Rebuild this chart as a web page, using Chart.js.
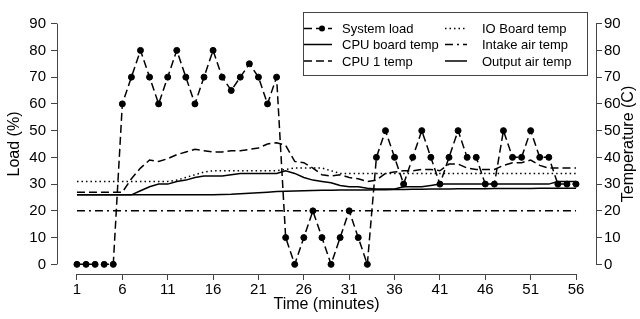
<!DOCTYPE html>
<html>
<head>
<meta charset="utf-8">
<script src="https://cdn.jsdelivr.net/npm/chart.js@4.4.1/dist/chart.umd.min.js"></script>
<style>
  html, body { margin: 0; padding: 0; background: #fff; }
  canvas { display: block; }
</style>
</head>
<body>
<canvas id="chart" width="640" height="319"></canvas>
<script>
// time axis (minutes)
const minutes = Array.from({ length: 56 }, (_, i) => i + 1);
const xTickVals = [1, 6, 11, 16, 21, 26, 31, 36, 41, 46, 51, 56];
const yTickVals = [0, 10, 20, 30, 40, 50, 60, 70, 80, 90];

// values
const systemLoad = [
  0, 0, 0, 0, 0, 60, 70, 80, 70, 60,
  70, 80, 70, 60, 70, 80, 70, 65, 70, 75,
  70, 60, 70, 10, 0, 10, 20, 10, 0, 10,
  20, 10, 0, 40, 50, 40, 30, 40, 50, 40,
  30, 40, 50, 40, 40, 30, 30, 50, 40, 40,
  50, 40, 40, 30, 30, 30
];
const cpuBoardTemp = [
  26, 26, 26, 26, 26, 26, 26, 27.5, 29, 30,
  30, 31, 31.5, 32.5, 33, 33, 33, 33.5, 34, 34,
  34, 34, 34, 35, 34, 32.5, 31.5, 31, 30.5, 29.5,
  29, 29, 28.5, 28.2, 28.2, 28.2, 29, 29, 29, 29.5,
  30, 30, 30, 30, 30, 30, 30, 30, 30, 30,
  30, 30, 30, 31, 31, 31
];
const cpu1Temp = [
  27, 27, 27, 27, 27, 27, 32, 36, 39, 38.5,
  39.5, 41, 42, 43, 42.5, 42, 42, 42.5, 42.5, 43,
  43.5, 45, 45.5, 44.5, 38.5, 38, 36, 33.5, 33, 33.5,
  32.5, 32, 31, 31.5, 34, 34.5, 35, 35, 35.5, 35.5,
  35, 37.5, 37.5, 36, 35.5, 35.5, 35.5, 37, 38, 38,
  39, 37, 36, 36, 36, 36
];
const ioBoardTemp = [
  31, 31, 31, 31, 31, 31, 31, 31, 31, 31,
  31, 31.5, 32.5, 33.5, 34.5, 35, 35, 35, 35, 35,
  35, 35, 35, 35.5, 36, 36, 36, 36, 35, 34,
  34, 34, 34, 34, 34, 34, 34, 34, 34, 34,
  34, 34, 34, 34, 34, 34, 34, 34, 34, 34,
  34, 34, 34, 34, 34, 34
];
const intakeAirTemp = [
  20, 20, 20, 20, 20, 20, 20, 20, 20, 20,
  20, 20, 20, 20, 20, 20, 20, 20, 20, 20,
  20, 20, 20, 20, 20, 20, 20, 20, 20, 20,
  20, 20, 20, 20, 20, 20, 20, 20, 20, 20,
  20, 20, 20, 20, 20, 20, 20, 20, 20, 20,
  20, 20, 20, 20, 20, 20
];
const outputAirTemp = [
  26, 26, 26, 26, 26, 26, 26, 26, 26, 26,
  26, 26, 26, 26, 26, 26, 26.1, 26.2, 26.4, 26.6,
  26.8, 27, 27.2, 27.3, 27.4, 27.5, 27.6, 27.7, 27.7, 27.8,
  27.8, 27.8, 27.8, 27.9, 27.9, 28, 28, 28.1, 28.1, 28.2,
  28.2, 28.2, 28.3, 28.3, 28.3, 28.3, 28.4, 28.4, 28.4, 28.4,
  28.4, 28.5, 28.5, 28.5, 28.5, 28.5
];

const FONT = "'Liberation Sans', Arial, sans-serif";
const AXIS_COLOR = '#444';

Chart.defaults.font.family = FONT;
Chart.defaults.color = '#000';

function toPoints(vals) {
  return vals.map((v, i) => ({ x: minutes[i], y: v }));
}

function lineSet(label, vals, dash, axis) {
  return {
    label: label,
    data: toPoints(vals),
    borderColor: '#000',
    backgroundColor: '#000',
    borderWidth: 1.5,
    borderDash: dash,
    pointRadius: 0,
    tension: 0,
    yAxisID: axis
  };
}

const loadSet = lineSet('System load', systemLoad, [8, 4], 'y');
loadSet.pointRadius = 3;
loadSet.pointBorderWidth = 1;
loadSet.pointHoverRadius = 3;

const datasets = [
  loadSet,
  lineSet('CPU board temp', cpuBoardTemp, [], 'y1'),
  lineSet('CPU 1 temp', cpu1Temp, [8, 4], 'y1'),
  lineSet('IO Board temp', ioBoardTemp, [1.5, 3], 'y1'),
  lineSet('Intake air temp', intakeAirTemp, [8, 4, 2, 4], 'y1'),
  lineSet('Output air temp', outputAirTemp, [], 'y1')
];

// R-style detached axes, titles and a boxed two-column legend
const decorations = {
  id: 'decorations',
  afterDraw(chart) {
    const ctx = chart.ctx;
    const area = chart.chartArea;
    const sx = chart.scales.x, sy = chart.scales.y, sy1 = chart.scales.y1;
    const px = (v) => Math.round(v) + 0.5;

    ctx.save();
    ctx.strokeStyle = AXIS_COLOR;
    ctx.lineWidth = 1;
    ctx.setLineDash([]);
    ctx.beginPath();
    ctx.moveTo(px(area.left), sy.getPixelForValue(yTickVals[0]));
    ctx.lineTo(px(area.left), sy.getPixelForValue(yTickVals[yTickVals.length - 1]));
    ctx.moveTo(px(area.right), sy1.getPixelForValue(yTickVals[0]));
    ctx.lineTo(px(area.right), sy1.getPixelForValue(yTickVals[yTickVals.length - 1]));
    ctx.moveTo(sx.getPixelForValue(xTickVals[0]), px(area.bottom));
    ctx.lineTo(sx.getPixelForValue(xTickVals[xTickVals.length - 1]), px(area.bottom));
    ctx.stroke();

    // axis titles
    ctx.fillStyle = '#000';
    ctx.font = '16px ' + FONT;
    ctx.textAlign = 'center';
    ctx.textBaseline = 'middle';
    const midY = (area.top + area.bottom) / 2;
    ctx.fillText('Time (minutes)', (area.left + area.right) / 2, 305);
    ctx.save();
    ctx.translate(15, midY);
    ctx.rotate(-Math.PI / 2);
    ctx.fillText('Load (%)', 0, 0);
    ctx.restore();
    ctx.save();
    ctx.translate(629, midY);
    ctx.rotate(-Math.PI / 2);
    ctx.fillText('Temperature (C)', 0, 0);
    ctx.restore();

    // legend
    const box = { left: 303.5, top: 12.5, right: 587.5, bottom: 75.5 };
    ctx.strokeStyle = AXIS_COLOR;
    ctx.strokeRect(box.left, box.top, box.right - box.left, box.bottom - box.top);
    const rows = [28.5, 44.5, 61];
    const cols = [
      { x0: 304, x1: 332, tx: 342 },
      { x0: 445, x1: 467, tx: 482 }
    ];
    ctx.font = '13px ' + FONT;
    ctx.textAlign = 'left';
    chart.data.datasets.forEach((ds, i) => {
      const col = cols[Math.floor(i / 3)];
      const y = rows[i % 3];
      ctx.strokeStyle = '#000';
      ctx.lineWidth = ds.borderWidth;
      ctx.setLineDash(ds.borderDash || []);
      ctx.beginPath();
      ctx.moveTo(col.x0, y);
      ctx.lineTo(col.x1, y);
      ctx.stroke();
      if (ds.pointRadius > 0) {
        ctx.setLineDash([]);
        ctx.beginPath();
        ctx.arc((col.x0 + col.x1) / 2 + 4, y, ds.pointRadius, 0, Math.PI * 2);
        ctx.fillStyle = '#000';
        ctx.fill();
      }
      ctx.fillStyle = '#000';
      ctx.fillText(ds.label, col.tx, y + 1);
    });
    ctx.restore();
  }
};

function yAxis(position, width, pad) {
  return {
    type: 'linear',
    position: position,
    min: -3.6,
    max: 93.6,
    afterBuildTicks: (s) => { s.ticks = yTickVals.map(v => ({ value: v })); },
    afterFit: (s) => { s.width = width; },
    grid: { drawOnChartArea: false, drawTicks: true, tickLength: 6, color: AXIS_COLOR, lineWidth: 1 },
    border: { display: false },
    ticks: { font: { size: 15 }, color: '#000', padding: pad, autoSkip: false }
  };
}

new Chart(document.getElementById('chart'), {
  type: 'line',
  data: { datasets: datasets },
  options: {
    responsive: false,
    animation: false,
    devicePixelRatio: 1,
    layout: { padding: { top: 2, left: 0, right: 0, bottom: 0 } },
    plugins: {
      legend: { display: false },
      tooltip: { enabled: false },
      title: { display: false }
    },
    scales: {
      x: {
        type: 'linear',
        min: -1.2,
        max: 58.2,
        afterBuildTicks: (s) => { s.ticks = xTickVals.map(v => ({ value: v })); },
        afterFit: (s) => { s.height = 45; },
        grid: { drawOnChartArea: false, drawTicks: true, tickLength: 6, color: AXIS_COLOR, lineWidth: 1 },
        border: { display: false },
        ticks: { font: { size: 15 }, color: '#000', padding: 1, maxRotation: 0, autoSkip: false }
      },
      y: yAxis('left', 57, 5),
      y1: yAxis('right', 44, 2)
    }
  },
  plugins: [decorations]
});
</script>
</body>
</html>
